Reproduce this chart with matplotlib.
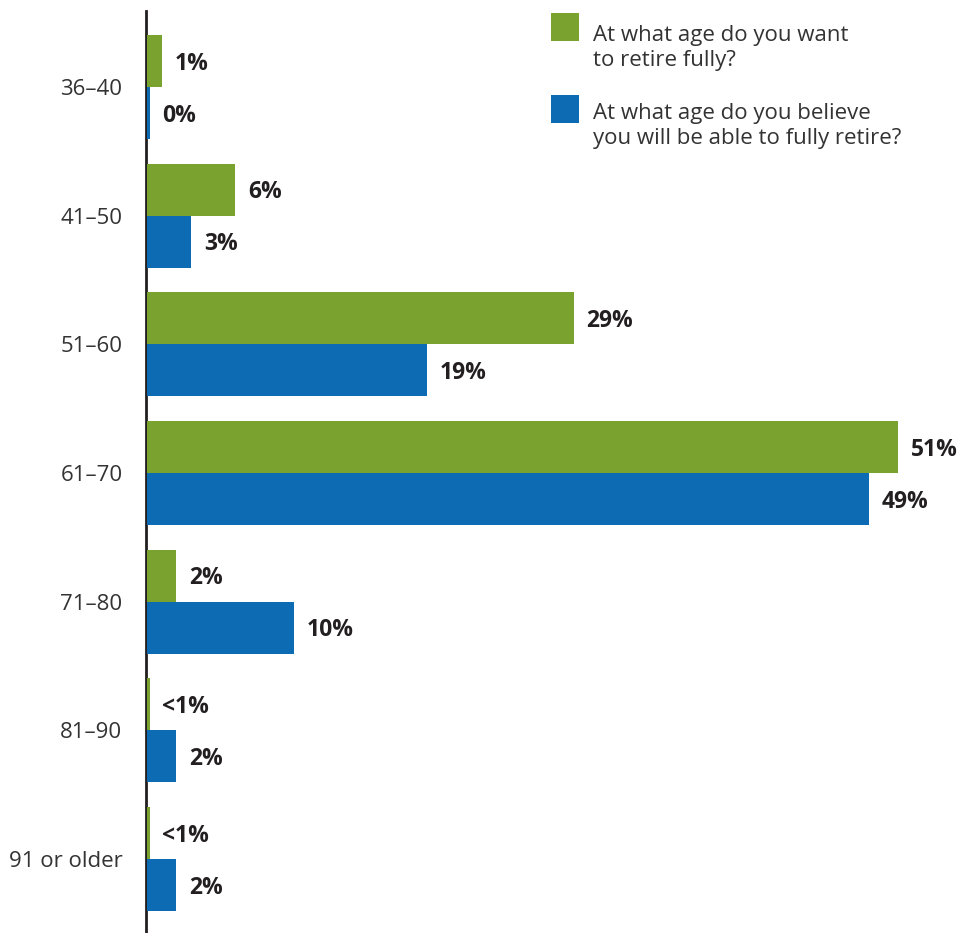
import numpy as np
import matplotlib.pyplot as plt
from matplotlib.patches import Rectangle

plt.rcParams['font.family'] = ['Open Sans', 'DejaVu Sans']

# data
ages = ['36–40', '41–50', '51–60', '61–70', '71–80', '81–90', '91 or older']
want = [1, 6, 29, 51, 2, 0.2, 0.2]          # drawn lengths (<1% shown as a sliver)
believe = [0.2, 3, 19, 49, 10, 2, 2]
want_labels = ['1%', '6%', '29%', '51%', '2%', '<1%', '<1%']
believe_labels = ['0%', '3%', '19%', '49%', '10%', '2%', '2%']
legend_labels = ['At what age do you want\nto retire fully?',
                 'At what age do you believe\nyou will be able to fully retire?']

GREEN = '#79A22F'
BLUE = '#0D6BB3'
TXT = '#333333'
LBL = '#231F20'

W, H = 960, 933
fig = plt.figure(figsize=(W / 100, H / 100), dpi=100)
ax = fig.add_axes([146 / W, 0, 1 - 146 / W, 1 - 11 / H])

y = np.arange(len(ages))
h = 0.404
ax.barh(y - h / 2, want, height=h, color=GREEN, linewidth=0, zorder=3)
ax.barh(y + h / 2, believe, height=h, color=BLUE, linewidth=0, zorder=3)

for i in range(len(ages)):
    ax.annotate(want_labels[i], (want[i], y[i] - h / 2), xytext=(9, -2),
                textcoords='offset points', va='center', ha='left',
                fontsize=16.5, fontweight='bold', color=LBL)
    ax.annotate(believe_labels[i], (believe[i], y[i] + h / 2), xytext=(9, -2),
                textcoords='offset points', va='center', ha='left',
                fontsize=16.5, fontweight='bold', color=LBL)

ax.set_xlim(-0.07, 55.2)
ax.set_ylim(6.575, -0.59)
ax.set_yticks(y)
ax.set_yticklabels(ages, fontsize=16, color=TXT)
ax.tick_params(axis='y', length=0, pad=17)
ax.set_xticks([])
for s in ['top', 'right', 'bottom']:
    ax.spines[s].set_visible(False)
ax.spines['left'].set_linewidth(2)
ax.spines['left'].set_color('#231F20')
ax.spines['left'].set_zorder(2)

# legend drawn by hand so the swatch lines up with the first text line
for (top, base), col, lab in zip([(13, 66), (95, 144)], [GREEN, BLUE], legend_labels):
    fig.patches.append(Rectangle((551 / W, 1 - (top + 28) / H), 28 / W, 28 / H,
                                 transform=fig.transFigure, color=col, lw=0))
    fig.text(593 / W, 1 - base / H, lab, fontsize=16, color=TXT,
             va='baseline', ha='left', linespacing=1.25)

fig.savefig('out.png', dpi=100)
